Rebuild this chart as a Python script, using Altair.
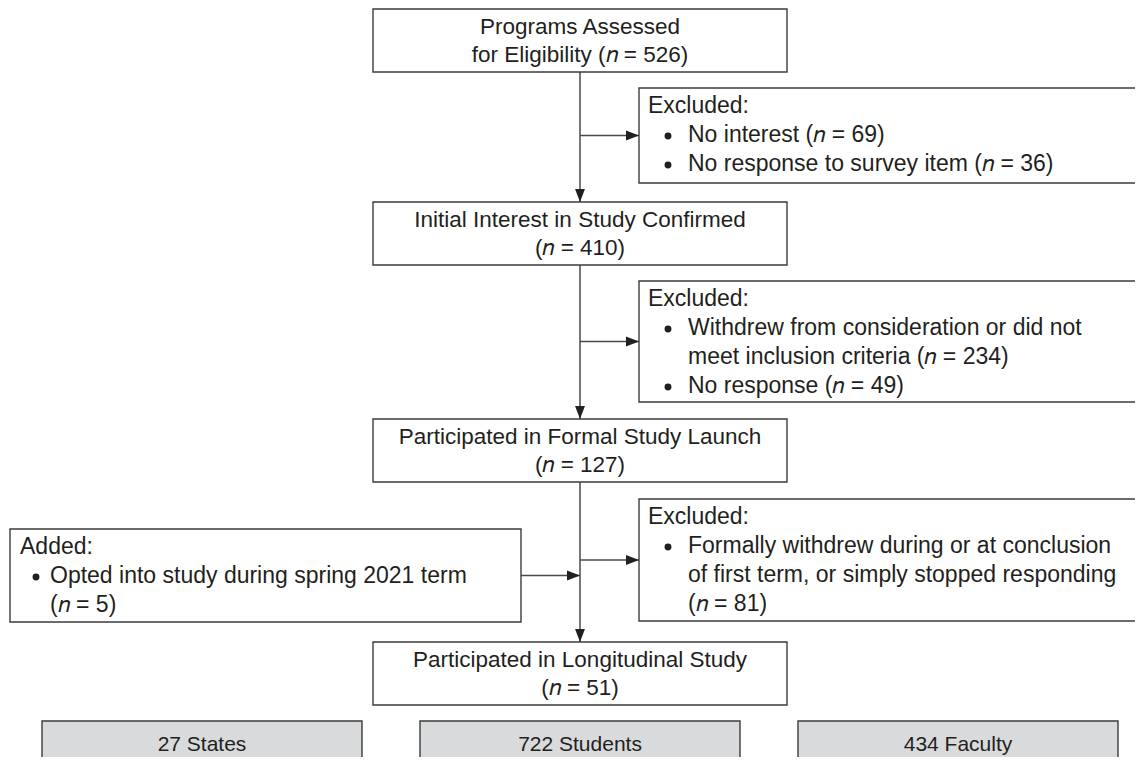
import altair as alt
import pandas as pd

# ---------------- content ----------------
MAIN_LINE1 = ["Programs Assessed", "Initial Interest in Study Confirmed",
              "Participated in Formal Study Launch", "Participated in Longitudinal Study"]
MAIN_LINE2 = ["for Eligibility (𝑛 = 526)", "(𝑛 = 410)", "(𝑛 = 127)", "(𝑛 = 51)"]

SIDE_HEADERS = ["Excluded:", "Excluded:", "Excluded:", "Added:"]
SIDE_LINES = [
    [("b", "No interest (𝑛 = 69)"), ("b", "No response to survey item (𝑛 = 36)")],
    [("b", "Withdrew from consideration or did not"),
     ("c", "meet inclusion criteria (𝑛 = 234)"),
     ("b", "No response (𝑛 = 49)")],
    [("b", "Formally withdrew during or at conclusion"),
     ("c", "of first term, or simply stopped responding"),
     ("c", "(𝑛 = 81)")],
    [("b", "Opted into study during spring 2021 term"), ("c", "(𝑛 = 5)")],
]

TOTAL_LABELS = ["27 States", "722 Students", "434 Faculty"]

# ---------------- layout (pixel space of the page) ----------------
MAIN_TOP = [9, 202, 419, 642]
MAIN_H = 63
MAIN_LEFT, MAIN_RIGHT = 373, 787
SPINE_X = 580

SIDE_LEFT = [639, 639, 639, 10]
SIDE_RIGHT = [1170, 1170, 1170, 521]
SIDE_TOP = [88, 281, 499, 529]
SIDE_BOTTOM = [183, 402, 621, 622]
SIDE_INDENT = [(9, 29, 49), (9, 29, 49), (9, 29, 49), (10, 26, 40)]

TOTAL_CENTER = [202, 580, 958]
TOTAL_W = 320
TOTAL_TOP = 721
TOTAL_BOTTOM = 790

LINE_STEP = 29
FONT = "Liberation Sans"
FS = 22.5
FS_SIDE = 23
FS_TOTAL = 21
TXT = "#231f20"
EDGE = "#3c3c3c"

# ---------------- build tables ----------------
boxes, texts, segs, heads, dots = [], [], [], [], []

for i in range(4):
    t = MAIN_TOP[i]
    boxes.append(dict(x=MAIN_LEFT, x2=MAIN_RIGHT, y=t, y2=t + MAIN_H, fill="white"))
    texts.append(dict(x=SPINE_X, y=t + 18, text=MAIN_LINE1[i], al="center"))
    texts.append(dict(x=SPINE_X, y=t + 46, text=MAIN_LINE2[i], al="center"))
    if i < 3:
        nxt = MAIN_TOP[i + 1]
        segs.append(dict(x=SPINE_X, y=t + MAIN_H, x2=SPINE_X, y2=nxt))
        heads.append(dict(x=SPINE_X, y=nxt, d="down"))

for j in range(4):
    l, r, t, b = SIDE_LEFT[j], SIDE_RIGHT[j], SIDE_TOP[j], SIDE_BOTTOM[j]
    boxes.append(dict(x=l, x2=r, y=t, y2=b, fill="white"))
    hx, bx, tx = SIDE_INDENT[j]
    texts.append(dict(x=l + hx, y=t + 18, text=SIDE_HEADERS[j], al="left"))
    for k, (kind, s) in enumerate(SIDE_LINES[j]):
        yy = t + 18 + LINE_STEP * (k + 1)
        if kind == "b":
            dots.append(dict(x=l + bx, y=yy + 1))
        texts.append(dict(x=l + tx, y=yy, text=s, al="left"))
    mid = (t + b) / 2
    if l > SPINE_X:
        segs.append(dict(x=SPINE_X, y=mid, x2=l, y2=mid))
        heads.append(dict(x=l, y=mid, d="right"))
    else:
        segs.append(dict(x=r, y=mid, x2=SPINE_X, y2=mid))
        heads.append(dict(x=SPINE_X, y=mid, d="right"))

totals = []
for c, lab in zip(TOTAL_CENTER, TOTAL_LABELS):
    boxes.append(dict(x=c - TOTAL_W / 2, x2=c + TOTAL_W / 2, y=TOTAL_TOP, y2=TOTAL_BOTTOM, fill="#d9dadc"))
    totals.append(dict(x=c, y=745, text=lab))

boxes = pd.DataFrame(boxes)
texts = pd.DataFrame(texts)
segs = pd.DataFrame(segs)
heads = pd.DataFrame(heads)
dots = pd.DataFrame(dots)
totals = pd.DataFrame(totals)

W, H = 1127, 749
xs = alt.Scale(domain=[8, 8 + W], nice=False, zero=False)
ys = alt.Scale(domain=[8, 8 + H], nice=False, zero=False, reverse=True)
X = lambda f: alt.X(f, type="quantitative", scale=xs, axis=None)
Y = lambda f: alt.Y(f, type="quantitative", scale=ys, axis=None)

rect_layer = alt.Chart(boxes).mark_rect(stroke=EDGE, strokeWidth=1.4).encode(
    x=X("x"), x2="x2", y=Y("y"), y2="y2",
    fill=alt.Fill("fill:N", scale=None),
)

seg_layer = alt.Chart(segs).mark_rule(color="#4a4a4a", strokeWidth=1.5).encode(
    x=X("x"), x2="x2", y=Y("y"), y2="y2"
)

down_layer = alt.Chart(heads[heads["d"] == "down"]).mark_point(
    shape="M0,0 L-0.38,-1 L0.38,-1 Z", size=676, filled=True, color="#231f20", opacity=1
).encode(x=X("x"), y=Y("y"))

right_layer = alt.Chart(heads[heads["d"] == "right"]).mark_point(
    shape="M0,0 L-1,-0.38 L-1,0.38 Z", size=676, filled=True, color="#231f20", opacity=1
).encode(x=X("x"), y=Y("y"))

dot_layer = alt.Chart(dots).mark_circle(size=48, color=TXT, opacity=1).encode(
    x=X("x"), y=Y("y")
)

text_c = alt.Chart(texts[texts["al"] == "center"]).mark_text(
    font=FONT, fontSize=FS, color=TXT, align="center", baseline="middle"
).encode(x=X("x"), y=Y("y"), text="text:N")

text_l = alt.Chart(texts[texts["al"] == "left"]).mark_text(
    font=FONT, fontSize=FS_SIDE, color=TXT, align="left", baseline="middle"
).encode(x=X("x"), y=Y("y"), text="text:N")

text_t = alt.Chart(totals).mark_text(
    font=FONT, fontSize=FS_TOTAL, color=TXT, align="center", baseline="middle"
).encode(x=X("x"), y=Y("y"), text="text:N")

chart = alt.layer(seg_layer, rect_layer, down_layer, right_layer, dot_layer,
                  text_c, text_l, text_t).properties(
    width=W, height=H, padding=0, autosize=alt.AutoSizeParams(type="none")
).configure_view(stroke=None)

chart.save("out.html", embed_options={"renderer": "svg", "actions": False})
